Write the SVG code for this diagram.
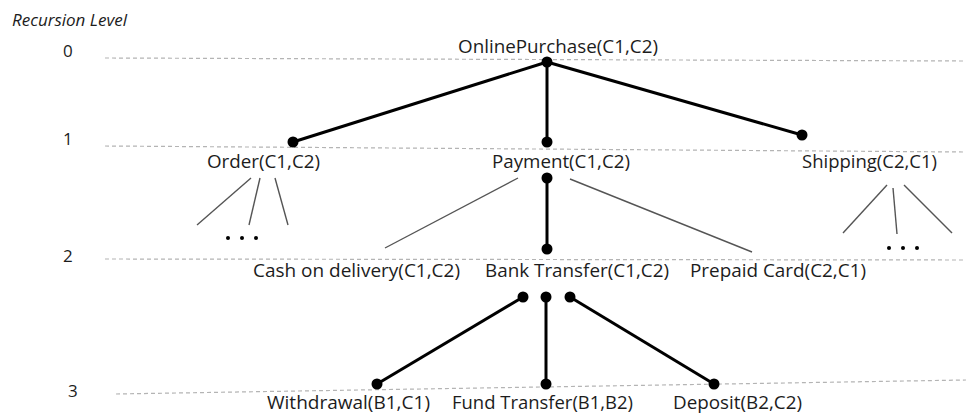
<svg xmlns="http://www.w3.org/2000/svg" width="966" height="413" viewBox="0 0 966 413">
  <style>
    .lbl { font-family: "Open Sans", "Liberation Sans", sans-serif; font-size: 18.5px; fill: #1c1c1c; }
    .lvl { font-family: "Open Sans", "Liberation Sans", sans-serif; font-size: 17px; fill: #1c1c1c; }
    .title { font-family: "Open Sans", "Liberation Sans", sans-serif; font-size: 16px; font-style: italic; fill: #1c1c1c; }
    .guide { stroke: #b4b4b4; stroke-width: 1.2; stroke-dasharray: 4 3; fill: none; }
    .edge { stroke: #000; stroke-width: 3; fill: none; }
    .thin { stroke: #555; stroke-width: 1.4; fill: none; }
    .dot { fill: #000; }
  </style>

  <rect width="966" height="413" fill="#fff"/>

  <!-- recursion level axis -->
  <g id="levels">
    <text class="title" x="12" y="26" textLength="115" lengthAdjust="spacingAndGlyphs">Recursion Level</text>
    <text class="lvl" x="63" y="57">0</text>
    <text class="lvl" x="63" y="145">1</text>
    <text class="lvl" x="63" y="262">2</text>
    <text class="lvl" x="68" y="397">3</text>
    <line class="guide" x1="105" y1="58" x2="966" y2="61"/>
    <line class="guide" x1="105" y1="146" x2="966" y2="152"/>
    <line class="guide" x1="105" y1="259" x2="966" y2="260"/>
    <line class="guide" x1="116" y1="394" x2="966" y2="380"/>
  </g>

  <!-- connectors -->
  <g id="connectors">
    <line class="edge" x1="547" y1="62" x2="293" y2="142"/>
    <line class="edge" x1="547" y1="62" x2="547" y2="142"/>
    <line class="edge" x1="547" y1="62" x2="802" y2="135"/>
    <line class="edge" x1="547" y1="178" x2="547" y2="249"/>
    <line class="edge" x1="523" y1="297" x2="377" y2="384"/>
    <line class="edge" x1="546" y1="297" x2="546" y2="384"/>
    <line class="edge" x1="570" y1="297" x2="714" y2="384"/>

    <line class="thin" x1="518" y1="178" x2="385" y2="248"/>
    <line class="thin" x1="570" y1="179" x2="752" y2="252"/>

    <line class="thin" x1="251" y1="178" x2="197" y2="225"/>
    <line class="thin" x1="260" y1="178" x2="249" y2="225"/>
    <line class="thin" x1="275" y1="178" x2="288" y2="225"/>

    <line class="thin" x1="887" y1="185" x2="843" y2="233"/>
    <line class="thin" x1="893" y1="188" x2="897" y2="234"/>
    <line class="thin" x1="904" y1="185" x2="952" y2="233"/>

    <circle class="dot" cx="547" cy="62" r="5.5"/>
    <circle class="dot" cx="293" cy="142" r="5.5"/>
    <circle class="dot" cx="547" cy="142" r="5.5"/>
    <circle class="dot" cx="802" cy="135" r="5.5"/>
    <circle class="dot" cx="547" cy="178" r="5.5"/>
    <circle class="dot" cx="547" cy="249" r="5.5"/>
    <circle class="dot" cx="523" cy="297" r="5.5"/>
    <circle class="dot" cx="546" cy="297" r="5.5"/>
    <circle class="dot" cx="570" cy="297" r="5.5"/>
    <circle class="dot" cx="377" cy="384" r="5.5"/>
    <circle class="dot" cx="546" cy="384" r="5.5"/>
    <circle class="dot" cx="714" cy="384" r="5.5"/>
  </g>

  <!-- nodes -->
  <g id="online-purchase">
    <text class="lbl" x="458" y="53" textLength="200" lengthAdjust="spacingAndGlyphs">OnlinePurchase(C1,C2)</text>
  </g>
  <g id="order">
    <text class="lbl" x="207" y="168" textLength="113" lengthAdjust="spacingAndGlyphs">Order(C1,C2)</text>
  </g>
  <g id="order-more">
    <circle class="dot" cx="228" cy="238" r="2"/>
    <circle class="dot" cx="242" cy="238" r="2"/>
    <circle class="dot" cx="256" cy="238" r="2"/>
  </g>
  <g id="payment">
    <text class="lbl" x="492" y="168" textLength="138" lengthAdjust="spacingAndGlyphs">Payment(C1,C2)</text>
  </g>
  <g id="shipping">
    <text class="lbl" x="802" y="168" textLength="135" lengthAdjust="spacingAndGlyphs">Shipping(C2,C1)</text>
  </g>
  <g id="shipping-more">
    <circle class="dot" cx="889" cy="248" r="2"/>
    <circle class="dot" cx="903" cy="248" r="2"/>
    <circle class="dot" cx="917" cy="248" r="2"/>
  </g>
  <g id="cash-on-delivery">
    <text class="lbl" x="253" y="277" textLength="207" lengthAdjust="spacingAndGlyphs">Cash on delivery(C1,C2)</text>
  </g>
  <g id="bank-transfer">
    <text class="lbl" x="485" y="277" textLength="184" lengthAdjust="spacingAndGlyphs">Bank Transfer(C1,C2)</text>
  </g>
  <g id="prepaid-card">
    <text class="lbl" x="690" y="277" textLength="176" lengthAdjust="spacingAndGlyphs">Prepaid Card(C2,C1)</text>
  </g>
  <g id="withdrawal">
    <text class="lbl" x="267" y="409" textLength="163" lengthAdjust="spacingAndGlyphs">Withdrawal(B1,C1)</text>
  </g>
  <g id="fund-transfer">
    <text class="lbl" x="452" y="409" textLength="181" lengthAdjust="spacingAndGlyphs">Fund Transfer(B1,B2)</text>
  </g>
  <g id="deposit">
    <text class="lbl" x="673" y="409" textLength="129" lengthAdjust="spacingAndGlyphs">Deposit(B2,C2)</text>
  </g>
</svg>
